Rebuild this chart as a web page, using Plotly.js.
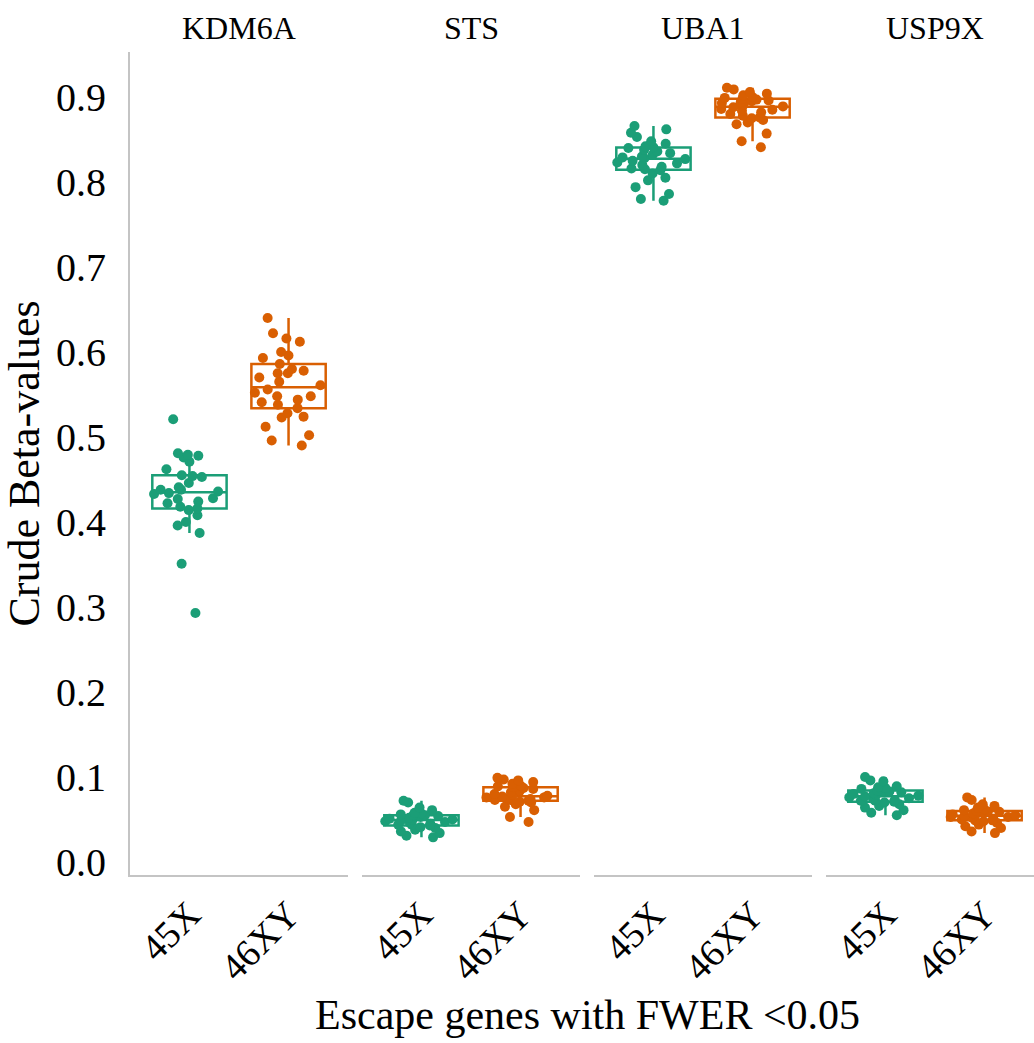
<!DOCTYPE html>
<html>
<head>
<meta charset="utf-8">
<script src="https://cdn.plot.ly/plotly-3.0.1.min.js"></script>
<style>
html,body{margin:0;padding:0;background:#fff;overflow:hidden;}
#chart{width:1044px;height:1043px;}
</style>
</head>
<body>
<div id="chart"></div>
<script>
// ---- data ----
var genes = ['KDM6A', 'STS', 'UBA1', 'USP9X'];
var groups = ['45X', '46XY'];
var groupColors = ['#1b9e77', '#d95f02'];

var KDM6A_45X = [0.521, 0.481, 0.479, 0.478, 0.476, 0.471, 0.462, 0.455, 0.454, 0.453, 0.446, 0.441, 0.438, 0.438, 0.436, 0.434, 0.433, 0.428, 0.427, 0.424, 0.422, 0.418, 0.416, 0.414, 0.408, 0.400, 0.396, 0.387, 0.351, 0.293];
var KDM6A_46XY = [0.640, 0.622, 0.616, 0.612, 0.600, 0.596, 0.593, 0.586, 0.580, 0.578, 0.575, 0.575, 0.570, 0.565, 0.561, 0.556, 0.552, 0.548, 0.548, 0.544, 0.541, 0.538, 0.534, 0.528, 0.524, 0.523, 0.512, 0.502, 0.496, 0.490];
var STS_45X = [0.072, 0.070, 0.064, 0.061, 0.058, 0.057, 0.056, 0.055, 0.055, 0.054, 0.053, 0.052, 0.051, 0.050, 0.050, 0.049, 0.048, 0.047, 0.046, 0.045, 0.044, 0.044, 0.043, 0.041, 0.040, 0.038, 0.036, 0.034, 0.031, 0.029];
var STS_46XY = [0.099, 0.097, 0.096, 0.094, 0.092, 0.090, 0.089, 0.088, 0.087, 0.086, 0.084, 0.082, 0.080, 0.079, 0.078, 0.077, 0.076, 0.076, 0.075, 0.074, 0.073, 0.073, 0.072, 0.071, 0.070, 0.068, 0.065, 0.061, 0.053, 0.047];
var UBA1_45X = [0.866, 0.862, 0.858, 0.853, 0.848, 0.845, 0.842, 0.841, 0.840, 0.838, 0.836, 0.834, 0.832, 0.830, 0.829, 0.828, 0.827, 0.825, 0.823, 0.822, 0.820, 0.818, 0.816, 0.815, 0.814, 0.810, 0.805, 0.802, 0.794, 0.786, 0.780, 0.778];
var UBA1_46XY = [0.911, 0.909, 0.906, 0.904, 0.902, 0.900, 0.899, 0.898, 0.897, 0.896, 0.895, 0.894, 0.893, 0.891, 0.889, 0.888, 0.886, 0.885, 0.884, 0.882, 0.880, 0.878, 0.876, 0.875, 0.873, 0.870, 0.868, 0.857, 0.848, 0.841];
var USP9X_45X = [0.100, 0.096, 0.095, 0.089, 0.088, 0.087, 0.086, 0.084, 0.083, 0.082, 0.082, 0.081, 0.080, 0.079, 0.078, 0.077, 0.076, 0.075, 0.074, 0.073, 0.072, 0.072, 0.071, 0.070, 0.068, 0.066, 0.064, 0.061, 0.058, 0.055];
var USP9X_46XY = [0.076, 0.073, 0.068, 0.066, 0.064, 0.062, 0.061, 0.060, 0.059, 0.059, 0.058, 0.057, 0.056, 0.055, 0.055, 0.054, 0.053, 0.053, 0.052, 0.051, 0.050, 0.049, 0.049, 0.048, 0.046, 0.044, 0.042, 0.040, 0.036, 0.034];

var yTickVals = [0, 0.1, 0.2, 0.3, 0.4, 0.5, 0.6, 0.7, 0.8, 0.9];

var seriesByGene = {
  KDM6A: [KDM6A_45X, KDM6A_46XY],
  STS: [STS_45X, STS_46XY],
  UBA1: [UBA1_45X, UBA1_46XY],
  USP9X: [USP9X_45X, USP9X_46XY]
};

// ---- layout geometry ----
var FONT = 'Liberation Serif, Times New Roman, serif';
var W = 1044, H = 1043;
var ml = 130, mr = 0, mt = 52, mb = 168;
var plotW = W - ml - mr;
var panelW = 218, gap = 14;

var traces = [];
var layout = {
  width: W, height: H,
  margin: {l: ml, r: mr, t: mt, b: mb, pad: 0},
  paper_bgcolor: '#ffffff',
  plot_bgcolor: '#ffffff',
  showlegend: false,
  font: {family: FONT, color: '#000000'},
  annotations: [],
  yaxis: {
    range: [-0.0153, 0.953],
    tickvals: yTickVals,
    tickformat: '.1f',
    showgrid: false,
    zeroline: false,
    showline: true,
    linecolor: '#c4c4c4',
    linewidth: 2,
    ticks: '',
    ticklabelstandoff: 14,
    tickfont: {family: FONT, size: 40, color: '#000000'},
    title: {text: 'Crude Beta-values', font: {family: FONT, size: 44, color: '#000000'}, standoff: 8}
  }
};

genes.forEach(function (g, i) {
  var xa = i === 0 ? 'x' : 'x' + (i + 1);
  var xaKey = i === 0 ? 'xaxis' : 'xaxis' + (i + 1);
  var d0 = (i * (panelW + gap)) / plotW;
  var d1 = (i * (panelW + gap) + panelW) / plotW;
  layout[xaKey] = {
    domain: [d0, Math.min(d1, 1)],
    type: 'category',
    categoryorder: 'array',
    categoryarray: groups,
    range: [-0.6, 1.6],
    anchor: 'y',
    showgrid: false,
    zeroline: false,
    showline: true,
    linecolor: '#c4c4c4',
    linewidth: 2,
    ticks: '',
    tickangle: -45,
    tickfont: {family: FONT, size: 38, color: '#000000'}
  };
  layout.annotations.push({
    text: g, xref: 'paper', yref: 'paper',
    x: (d0 + d1) / 2, y: 1 + (mt - 28) / (H - mt - mb),
    xanchor: 'center', yanchor: 'middle', showarrow: false,
    font: {family: FONT, size: 32, color: '#000000'}
  });
  groups.forEach(function (grp, j) {
    var vals = seriesByGene[g][j];
    traces.push({
      type: 'box',
      x: vals.map(function () { return grp; }),
      y: vals,
      xaxis: xa, yaxis: 'y',
      name: g + ' ' + grp,
      width: 0.75,
      quartilemethod: 'inclusive',
      boxpoints: 'all',
      jitter: 1,
      pointpos: 0,
      fillcolor: 'rgba(0,0,0,0)',
      line: {color: groupColors[j], width: 2.5},
      marker: {color: groupColors[j], size: 10, opacity: 1, line: {width: 0}},
      whiskerwidth: 0,
      hoverinfo: 'skip'
    });
  });
});

layout.annotations.push({
  text: 'Escape genes with FWER <0.05', xref: 'paper', yref: 'paper',
  x: 0.5, y: -(1015 - (H - mb)) / (H - mt - mb),
  xanchor: 'center', yanchor: 'middle', showarrow: false,
  font: {family: FONT, size: 42, color: '#000000'}
});

Plotly.newPlot('chart', traces, layout, {displayModeBar: false, staticPlot: true});
</script>
</body>
</html>
